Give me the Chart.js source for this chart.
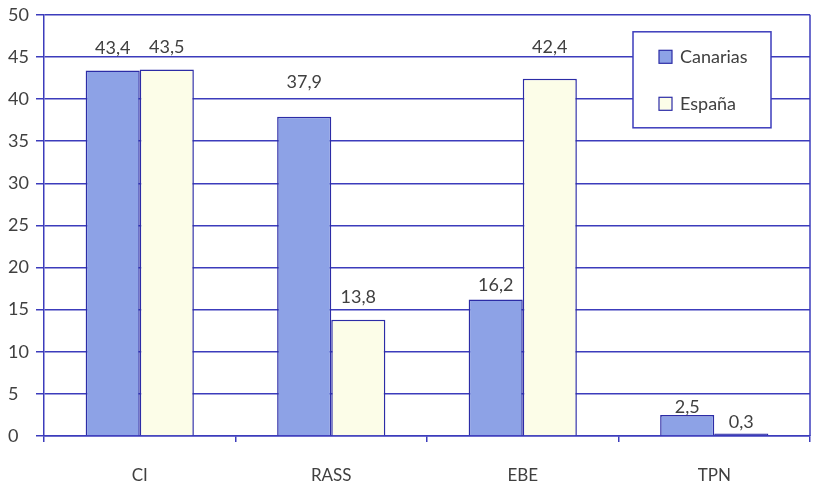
<!DOCTYPE html>
<html>
<head>
<meta charset="utf-8">
<script src="https://cdn.jsdelivr.net/npm/chart.js@4.4.1/dist/chart.umd.min.js"></script>
<style>
  html, body { margin: 0; padding: 0; background: #ffffff; }
  #wrap { width: 818px; height: 483px; }
</style>
</head>
<body>
<div id="wrap"><canvas id="c" width="818" height="483"></canvas></div>
<script>
// Categories and series
const categories = ['CI', 'RASS', 'EBE', 'TPN'];
const canarias = [43.4, 37.9, 16.2, 2.5];
const espana = [43.5, 13.8, 42.4, 0.3];
const seriesNames = ['Canarias', 'España'];
const yTicks = [0, 5, 10, 15, 20, 25, 30, 35, 40, 45, 50];

const FONT = 'Lato, "Open Sans", sans-serif';
const TEXT = '#404040';
const BLUE = '#3c3cbc';
const EDGE = '#2c2ca6';

const fmt = v => v.toFixed(1).replace('.', ',');

// Bars under one unit tall show only their outline colour
function fillFor(base) {
  return ctx => (typeof ctx.raw === 'number' && ctx.raw < 1 ? EDGE : base);
}

// Value labels above each bar (lift in px above the bar top)
const valueLabels = {
  id: 'valueLabels',
  afterDatasetsDraw(chart) {
    const ctx = chart.ctx;
    ctx.save();
    ctx.font = '18px ' + FONT;
    ctx.fillStyle = TEXT;
    ctx.textAlign = 'center';
    ctx.textBaseline = 'middle';
    chart.data.datasets.forEach((ds, di) => {
      const meta = chart.getDatasetMeta(di);
      meta.data.forEach((bar, i) => {
        const lift = ds.labelLift[i];
        ctx.fillText(fmt(ds.data[i]), bar.x, bar.y - lift);
      });
    });
    ctx.restore();
  }
};

// Right frame line and boxed legend
const frame = {
  id: 'frame',
  beforeDatasetsDraw(chart) {
    const { ctx, chartArea: a } = chart;
    ctx.save();
    ctx.strokeStyle = BLUE;
    ctx.lineWidth = 1.5;
    ctx.beginPath();
    ctx.moveTo(a.right, a.top);
    ctx.lineTo(a.right, a.bottom);
    ctx.stroke();
    ctx.restore();
  },
  afterDraw(chart) {
    const { ctx, chartArea: a } = chart;
    const x = a.right - 177, y = a.top + 17, w = 138, h = 96;
    ctx.save();
    ctx.fillStyle = '#ffffff';
    ctx.fillRect(x, y, w, h);
    ctx.strokeStyle = BLUE;
    ctx.lineWidth = 1.5;
    ctx.strokeRect(x, y, w, h);
    ctx.font = '18px ' + FONT;
    ctx.textBaseline = 'middle';
    ctx.textAlign = 'left';
    chart.data.datasets.forEach((ds, i) => {
      const cy = y + 25 + i * 47;
      ctx.fillStyle = ds.swatch;
      ctx.fillRect(x + 26, cy - 6.5, 13, 13);
      ctx.strokeStyle = EDGE;
      ctx.lineWidth = 1.2;
      ctx.strokeRect(x + 26, cy - 6.5, 13, 13);
      ctx.fillStyle = TEXT;
      ctx.fillText(ds.label, x + 47, cy);
    });
    ctx.restore();
  }
};

new Chart(document.getElementById('c'), {
  type: 'bar',
  data: {
    labels: categories,
    datasets: [
      {
        label: seriesNames[0],
        data: canarias,
        swatch: '#8da2e6',
        backgroundColor: fillFor('#8da2e6'),
        borderColor: EDGE,
        borderWidth: 1.5,
        labelLift: [22, 35, 14, 8]
      },
      {
        label: seriesNames[1],
        data: espana,
        swatch: '#fcfde8',
        backgroundColor: fillFor('#fcfde8'),
        borderColor: EDGE,
        borderWidth: 1.5,
        labelLift: [22, 23, 32, 11]
      }
    ]
  },
  options: {
    responsive: false,
    animation: false,
    devicePixelRatio: 1,
    layout: { padding: { left: 8, right: 8, top: 13, bottom: 0 } },
    plugins: {
      legend: { display: false },
      tooltip: { enabled: false }
    },
    datasets: {
      bar: { categoryPercentage: 0.565, barPercentage: 1.0 }
    },
    scales: {
      x: {
        grid: {
          display: true,
          drawOnChartArea: false,
          drawTicks: true,
          tickLength: 6,
          color: BLUE,
          lineWidth: 1.5
        },
        border: { display: true, color: BLUE, width: 1.5 },
        ticks: {
          font: { family: FONT, size: 17 },
          color: TEXT,
          padding: 23
        },
        afterFit(scale) { scale.height = 47; }
      },
      y: {
        min: 0,
        max: 50,
        afterBuildTicks(scale) { scale.ticks = yTicks.map(v => ({ value: v })); },
        grid: {
          color: BLUE,
          lineWidth: 1.5,
          drawTicks: true,
          tickLength: 8
        },
        border: { display: true, color: BLUE, width: 1.5 },
        ticks: {
          font: { family: FONT, size: 18 },
          color: TEXT,
          crossAlign: 'far',
          padding: 4
        },
        afterFit(scale) { scale.width = 36; }
      }
    }
  },
  plugins: [valueLabels, frame]
});
</script>
</body>
</html>
